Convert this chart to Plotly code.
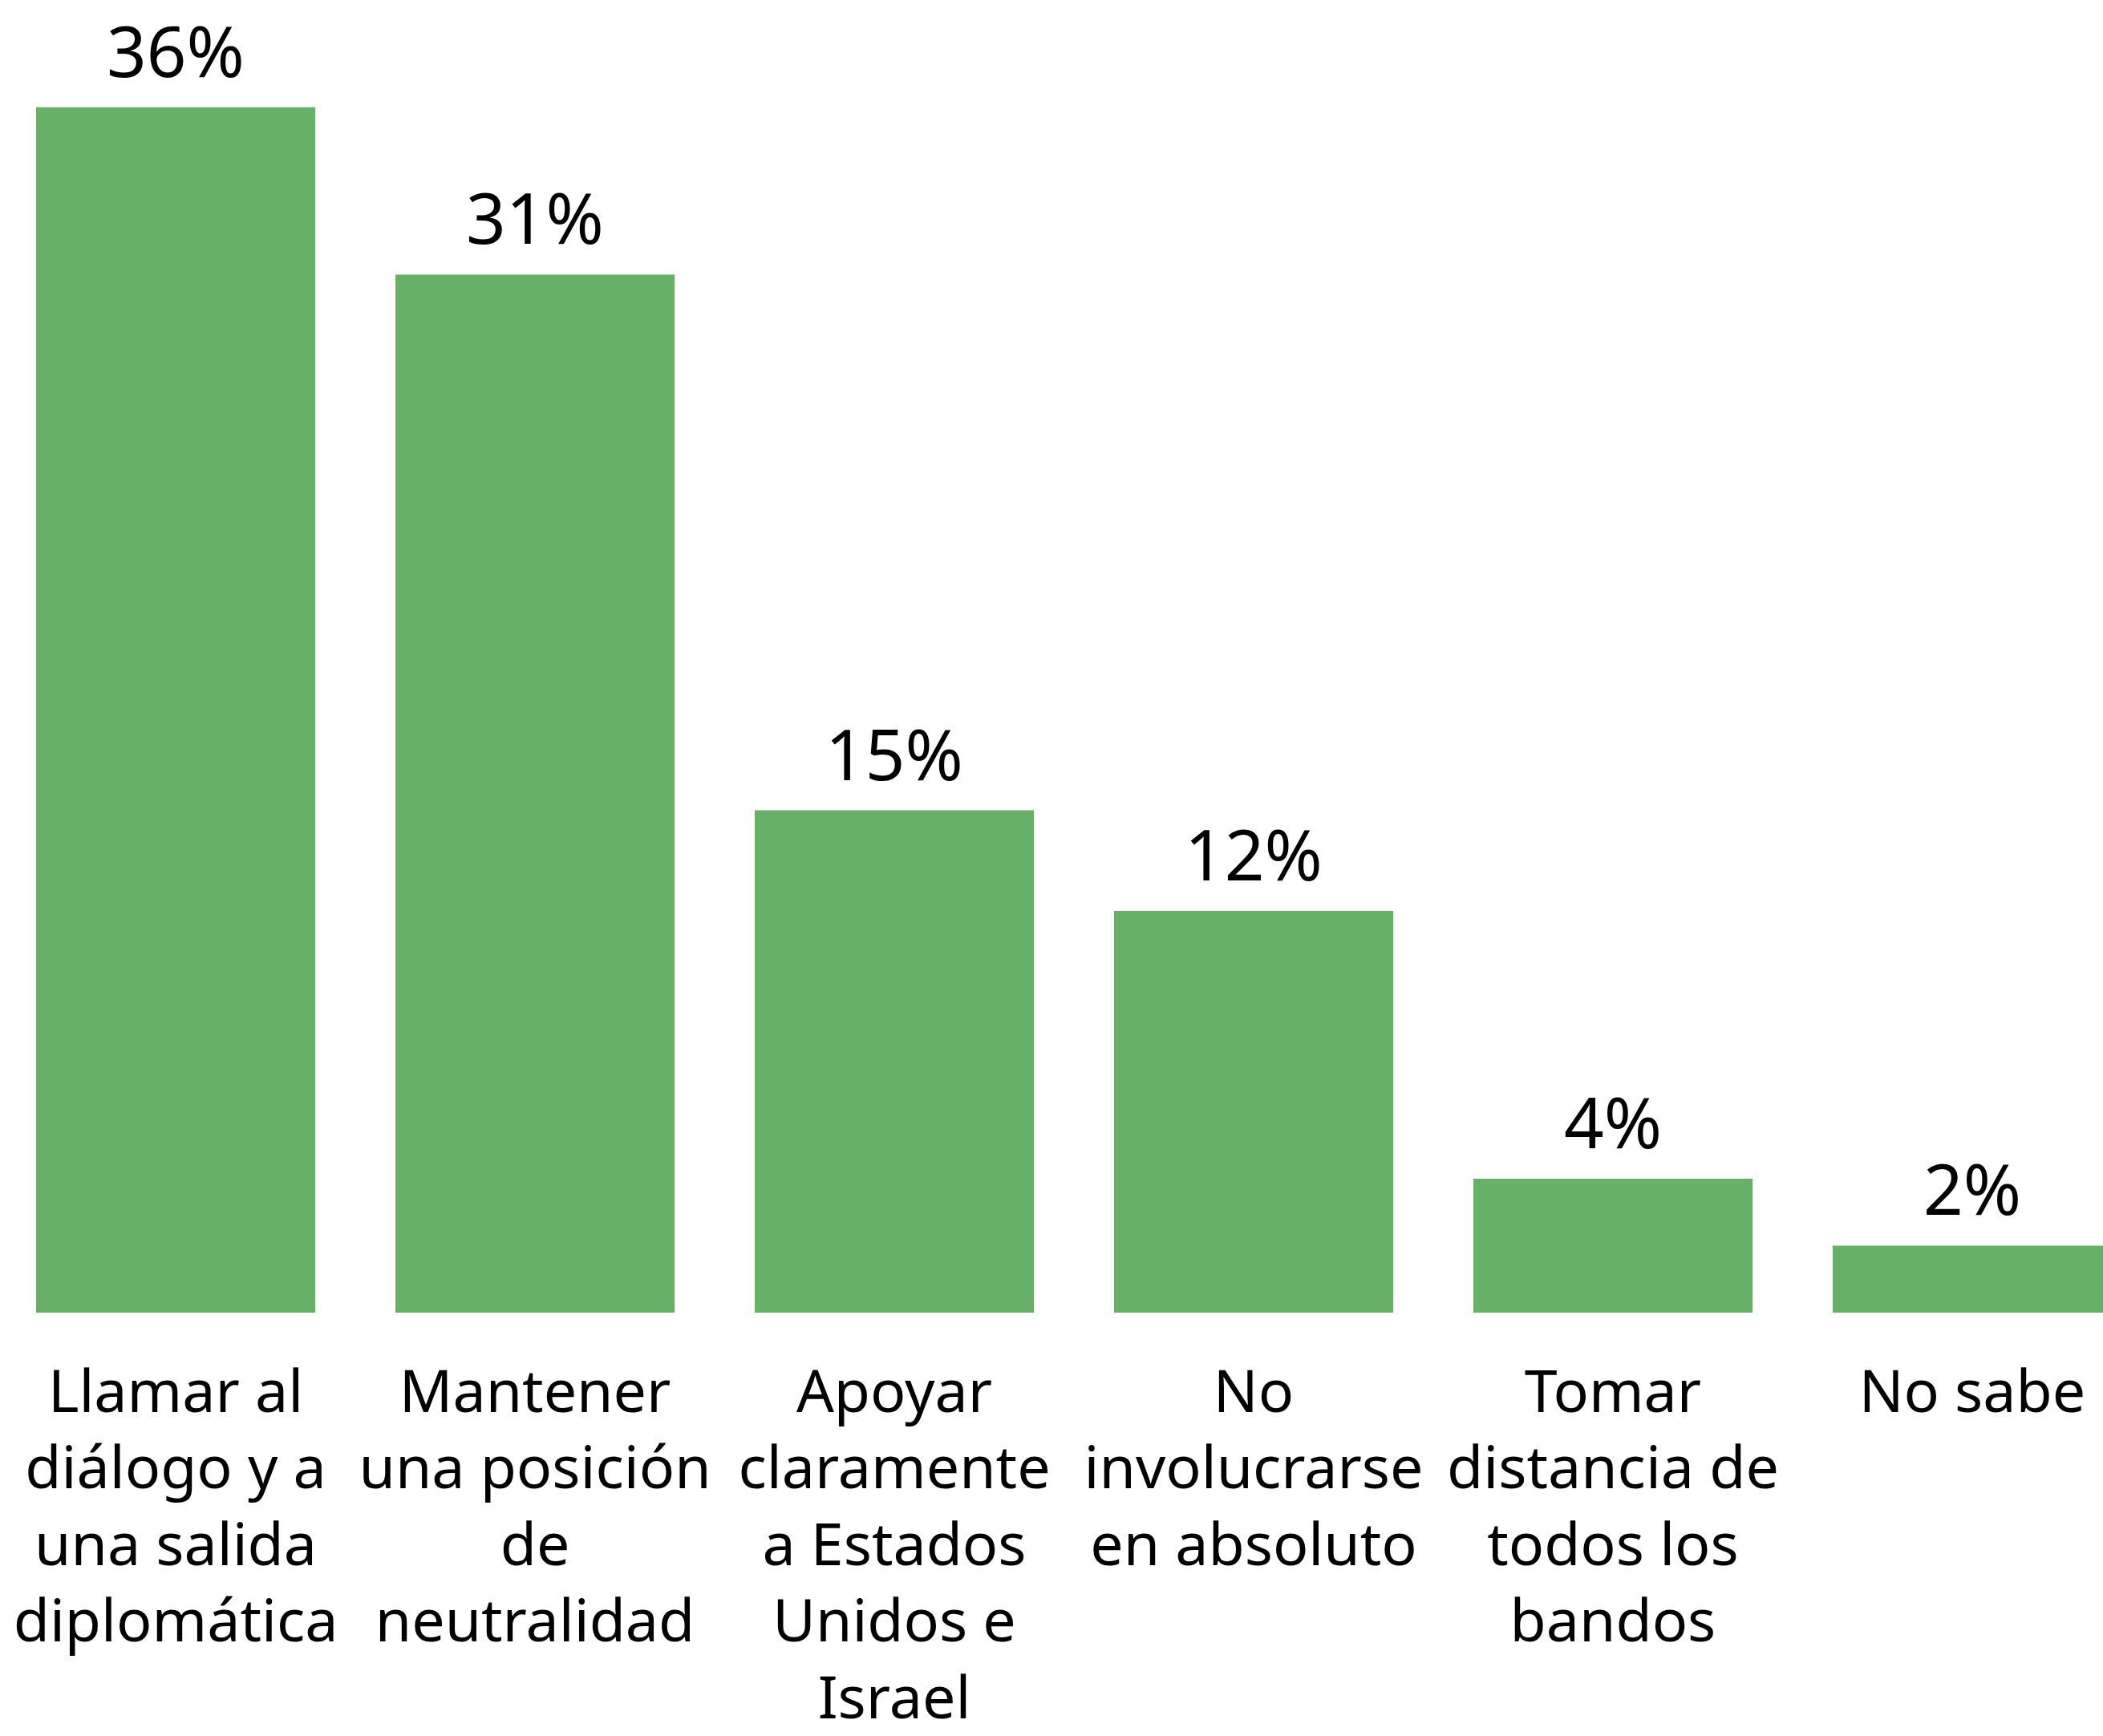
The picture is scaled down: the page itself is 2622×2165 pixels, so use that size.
import plotly.graph_objects as go

# Survey responses (percent)
categories = [
    "Llamar al<br>diálogo y a<br>una salida<br>diplomática",
    "Mantener<br>una posición<br>de<br>neutralidad",
    "Apoyar<br>claramente<br>a Estados<br>Unidos e<br>Israel",
    "No<br>involucrarse<br>en absoluto",
    "Tomar<br>distancia de<br>todos los<br>bandos",
    "No sabe",
]
values = [36, 31, 15, 12, 4, 2]

BAR_COLOR = "#66B067"
FONT = "Noto Sans"

fig = go.Figure(
    go.Bar(
        x=categories,
        y=values,
        marker=dict(color=BAR_COLOR, line=dict(width=0)),
        hoverinfo="skip",
    )
)

for cat, val in zip(categories, values):
    fig.add_annotation(
        x=cat,
        y=val,
        text=f"{val}%",
        showarrow=False,
        yanchor="bottom",
        yshift=11,
        font=dict(family=FONT, size=87, color="#000000"),
    )

fig.update_layout(
    width=2622,
    height=2165,
    margin=dict(l=0, r=0, t=0, b=526),
    paper_bgcolor="white",
    plot_bgcolor="white",
    bargap=0.223,
    showlegend=False,
    font=dict(family=FONT, color="#000000"),
)

fig.update_xaxes(
    range=[-0.489, 5.364],
    showgrid=False,
    showline=False,
    zeroline=False,
    ticks="",
    tickangle=0,
    tickfont=dict(family=FONT, size=73.5, color="#000000"),
    ticklabelstandoff=49,
)
fig.update_yaxes(
    range=[0, 39.2],
    visible=False,
    showgrid=False,
    zeroline=False,
)

fig.write_html("out.html")
